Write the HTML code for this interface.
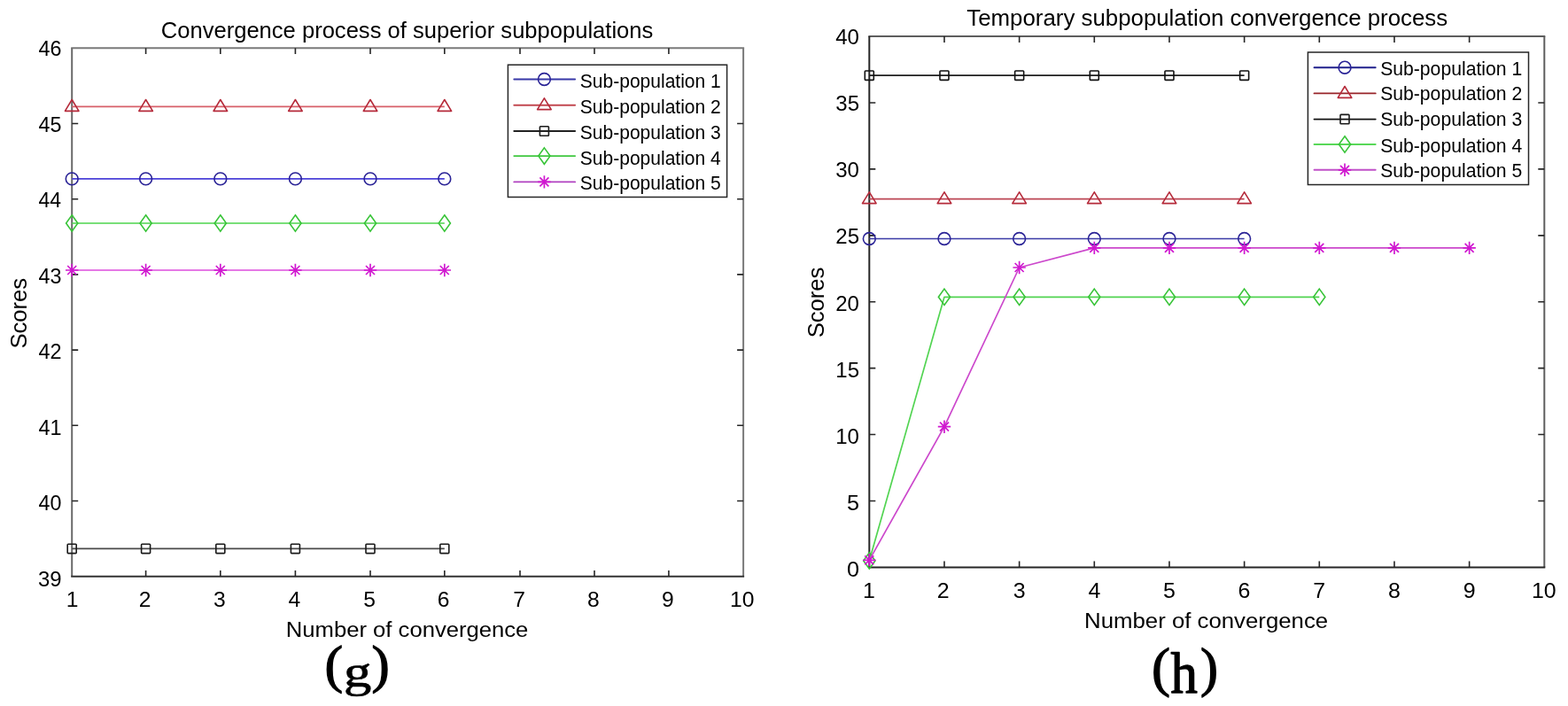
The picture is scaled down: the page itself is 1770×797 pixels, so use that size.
<!DOCTYPE html>
<html><head><meta charset="utf-8"><title>Convergence plots</title>
<style>html,body{margin:0;padding:0;background:#fff;}body{width:1770px;height:797px;overflow:hidden;}svg{display:block;}</style>
</head><body><svg width="1770" height="797" viewBox="0 0 1770 797"><rect width="1770" height="797" fill="#fff"/><path d="M80.20,54.30H840.10" stroke="#7a7a7a" stroke-width="2.0"/><path d="M839.10,54.30V650.70" stroke="#7a7a7a" stroke-width="2.0"/><path d="M81.20,54.30V650.70" stroke="#6a6a6a" stroke-width="2.0"/><path d="M80.20,650.70H840.10" stroke="#333" stroke-width="2.0"/><path d="M164.60,650.70V643.90M164.60,54.30V61.10M248.80,650.70V643.90M248.80,54.30V61.10M333.40,650.70V643.90M333.40,54.30V61.10M418.00,650.70V643.90M418.00,54.30V61.10M501.80,650.70V643.90M501.80,54.30V61.10M587.00,650.70V643.90M587.00,54.30V61.10M671.00,650.70V643.90M671.00,54.30V61.10M754.90,650.70V643.90M754.90,54.30V61.10M81.20,565.50H88.20M839.10,565.50H832.10M81.20,480.30H88.20M839.10,480.30H832.10M81.20,395.10H88.20M839.10,395.10H832.10M81.20,309.90H88.20M839.10,309.90H832.10M81.20,224.70H88.20M839.10,224.70H832.10M81.20,139.50H88.20M839.10,139.50H832.10" stroke="#262626" stroke-width="1.6" fill="none"/><path d="M980.30,41.10H1744.30" stroke="#5e5e5e" stroke-width="2.0"/><path d="M1743.30,41.10V640.40" stroke="#5e5e5e" stroke-width="2.0"/><path d="M981.30,41.10V640.40" stroke="#262626" stroke-width="2.0"/><path d="M980.30,640.40H1744.30" stroke="#262626" stroke-width="2.0"/><path d="M1065.97,640.40V633.60M1065.97,41.10V47.90M1150.63,640.40V633.60M1150.63,41.10V47.90M1235.30,640.40V633.60M1235.30,41.10V47.90M1319.97,640.40V633.60M1319.97,41.10V47.90M1404.63,640.40V633.60M1404.63,41.10V47.90M1489.30,640.40V633.60M1489.30,41.10V47.90M1573.97,640.40V633.60M1573.97,41.10V47.90M1658.63,640.40V633.60M1658.63,41.10V47.90M981.30,565.49H988.30M1743.30,565.49H1736.30M981.30,490.57H988.30M1743.30,490.57H1736.30M981.30,415.66H988.30M1743.30,415.66H1736.30M981.30,340.75H988.30M1743.30,340.75H1736.30M981.30,265.84H988.30M1743.30,265.84H1736.30M981.30,190.92H988.30M1743.30,190.92H1736.30M981.30,116.01H988.30M1743.30,116.01H1736.30" stroke="#262626" stroke-width="1.6" fill="none"/><polyline points="81.20,619.40 164.60,619.40 248.80,619.40 333.40,619.40 418.00,619.40 501.80,619.40" fill="none" stroke="#4a4a4a" stroke-width="1.7" stroke-linejoin="round"/><rect x="76.20" y="614.20" width="10.0" height="10.4" rx="0.8" fill="none" stroke="#1a1a1a" stroke-width="1.6"/><rect x="159.60" y="614.20" width="10.0" height="10.4" rx="0.8" fill="none" stroke="#1a1a1a" stroke-width="1.6"/><rect x="243.80" y="614.20" width="10.0" height="10.4" rx="0.8" fill="none" stroke="#1a1a1a" stroke-width="1.6"/><rect x="328.40" y="614.20" width="10.0" height="10.4" rx="0.8" fill="none" stroke="#1a1a1a" stroke-width="1.6"/><rect x="413.00" y="614.20" width="10.0" height="10.4" rx="0.8" fill="none" stroke="#1a1a1a" stroke-width="1.6"/><rect x="496.80" y="614.20" width="10.0" height="10.4" rx="0.8" fill="none" stroke="#1a1a1a" stroke-width="1.6"/><polyline points="81.20,252.00 164.60,252.00 248.80,252.00 333.40,252.00 418.00,252.00 501.80,252.00" fill="none" stroke="#4cd44c" stroke-width="1.7" stroke-linejoin="round"/><path d="M81.20,242.80 L87.80,252.00 L81.20,261.20 L74.60,252.00 Z" fill="none" stroke="#38c438" stroke-width="1.6"/><path d="M164.60,242.80 L171.20,252.00 L164.60,261.20 L158.00,252.00 Z" fill="none" stroke="#38c438" stroke-width="1.6"/><path d="M248.80,242.80 L255.40,252.00 L248.80,261.20 L242.20,252.00 Z" fill="none" stroke="#38c438" stroke-width="1.6"/><path d="M333.40,242.80 L340.00,252.00 L333.40,261.20 L326.80,252.00 Z" fill="none" stroke="#38c438" stroke-width="1.6"/><path d="M418.00,242.80 L424.60,252.00 L418.00,261.20 L411.40,252.00 Z" fill="none" stroke="#38c438" stroke-width="1.6"/><path d="M501.80,242.80 L508.40,252.00 L501.80,261.20 L495.20,252.00 Z" fill="none" stroke="#38c438" stroke-width="1.6"/><polyline points="81.20,305.00 164.60,305.00 248.80,305.00 333.40,305.00 418.00,305.00 501.80,305.00" fill="none" stroke="#dc4cdc" stroke-width="1.7" stroke-linejoin="round"/><path d="M74.00,305.00H88.40M81.20,297.80V312.20M76.20,300.00L86.20,310.00M76.20,310.00L86.20,300.00" stroke="#d018d0" stroke-width="1.7" fill="none"/><path d="M157.40,305.00H171.80M164.60,297.80V312.20M159.60,300.00L169.60,310.00M159.60,310.00L169.60,300.00" stroke="#d018d0" stroke-width="1.7" fill="none"/><path d="M241.60,305.00H256.00M248.80,297.80V312.20M243.80,300.00L253.80,310.00M243.80,310.00L253.80,300.00" stroke="#d018d0" stroke-width="1.7" fill="none"/><path d="M326.20,305.00H340.60M333.40,297.80V312.20M328.40,300.00L338.40,310.00M328.40,310.00L338.40,300.00" stroke="#d018d0" stroke-width="1.7" fill="none"/><path d="M410.80,305.00H425.20M418.00,297.80V312.20M413.00,300.00L423.00,310.00M413.00,310.00L423.00,300.00" stroke="#d018d0" stroke-width="1.7" fill="none"/><path d="M494.60,305.00H509.00M501.80,297.80V312.20M496.80,300.00L506.80,310.00M496.80,310.00L506.80,300.00" stroke="#d018d0" stroke-width="1.7" fill="none"/><polyline points="81.20,201.90 164.60,201.90 248.80,201.90 333.40,201.90 418.00,201.90 501.80,201.90" fill="none" stroke="#4a40d8" stroke-width="1.7" stroke-linejoin="round"/><circle cx="81.20" cy="201.90" r="6.9" fill="none" stroke="#2a2396" stroke-width="1.6"/><circle cx="164.60" cy="201.90" r="6.9" fill="none" stroke="#2a2396" stroke-width="1.6"/><circle cx="248.80" cy="201.90" r="6.9" fill="none" stroke="#2a2396" stroke-width="1.6"/><circle cx="333.40" cy="201.90" r="6.9" fill="none" stroke="#2a2396" stroke-width="1.6"/><circle cx="418.00" cy="201.90" r="6.9" fill="none" stroke="#2a2396" stroke-width="1.6"/><circle cx="501.80" cy="201.90" r="6.9" fill="none" stroke="#2a2396" stroke-width="1.6"/><polyline points="81.20,120.40 164.60,120.40 248.80,120.40 333.40,120.40 418.00,120.40 501.80,120.40" fill="none" stroke="#d8606a" stroke-width="1.7" stroke-linejoin="round"/><path d="M81.20,112.50 L89.00,125.35 L73.40,125.35 Z" fill="none" stroke="#b52a3a" stroke-width="1.6" stroke-linejoin="round"/><path d="M164.60,112.50 L172.40,125.35 L156.80,125.35 Z" fill="none" stroke="#b52a3a" stroke-width="1.6" stroke-linejoin="round"/><path d="M248.80,112.50 L256.60,125.35 L241.00,125.35 Z" fill="none" stroke="#b52a3a" stroke-width="1.6" stroke-linejoin="round"/><path d="M333.40,112.50 L341.20,125.35 L325.60,125.35 Z" fill="none" stroke="#b52a3a" stroke-width="1.6" stroke-linejoin="round"/><path d="M418.00,112.50 L425.80,125.35 L410.20,125.35 Z" fill="none" stroke="#b52a3a" stroke-width="1.6" stroke-linejoin="round"/><path d="M501.80,112.50 L509.60,125.35 L494.00,125.35 Z" fill="none" stroke="#b52a3a" stroke-width="1.6" stroke-linejoin="round"/><polyline points="981.30,85.20 1065.97,85.20 1150.63,85.20 1235.30,85.20 1319.97,85.20 1404.63,85.20" fill="none" stroke="#1e1e1e" stroke-width="1.7" stroke-linejoin="round"/><rect x="976.30" y="80.00" width="10.0" height="10.4" rx="0.8" fill="none" stroke="#111111" stroke-width="1.6"/><rect x="1060.97" y="80.00" width="10.0" height="10.4" rx="0.8" fill="none" stroke="#111111" stroke-width="1.6"/><rect x="1145.63" y="80.00" width="10.0" height="10.4" rx="0.8" fill="none" stroke="#111111" stroke-width="1.6"/><rect x="1230.30" y="80.00" width="10.0" height="10.4" rx="0.8" fill="none" stroke="#111111" stroke-width="1.6"/><rect x="1314.97" y="80.00" width="10.0" height="10.4" rx="0.8" fill="none" stroke="#111111" stroke-width="1.6"/><rect x="1399.63" y="80.00" width="10.0" height="10.4" rx="0.8" fill="none" stroke="#111111" stroke-width="1.6"/><polyline points="981.30,224.70 1065.97,224.70 1150.63,224.70 1235.30,224.70 1319.97,224.70 1404.63,224.70" fill="none" stroke="#bc4654" stroke-width="1.7" stroke-linejoin="round"/><path d="M981.30,216.80 L989.10,229.65 L973.50,229.65 Z" fill="none" stroke="#b52a3a" stroke-width="1.6" stroke-linejoin="round"/><path d="M1065.97,216.80 L1073.77,229.65 L1058.17,229.65 Z" fill="none" stroke="#b52a3a" stroke-width="1.6" stroke-linejoin="round"/><path d="M1150.63,216.80 L1158.43,229.65 L1142.83,229.65 Z" fill="none" stroke="#b52a3a" stroke-width="1.6" stroke-linejoin="round"/><path d="M1235.30,216.80 L1243.10,229.65 L1227.50,229.65 Z" fill="none" stroke="#b52a3a" stroke-width="1.6" stroke-linejoin="round"/><path d="M1319.97,216.80 L1327.77,229.65 L1312.17,229.65 Z" fill="none" stroke="#b52a3a" stroke-width="1.6" stroke-linejoin="round"/><path d="M1404.63,216.80 L1412.43,229.65 L1396.83,229.65 Z" fill="none" stroke="#b52a3a" stroke-width="1.6" stroke-linejoin="round"/><polyline points="981.30,269.50 1065.97,269.50 1150.63,269.50 1235.30,269.50 1319.97,269.50 1404.63,269.50" fill="none" stroke="#3a3aa6" stroke-width="1.7" stroke-linejoin="round"/><circle cx="981.30" cy="269.50" r="6.9" fill="none" stroke="#2a2396" stroke-width="1.6"/><circle cx="1065.97" cy="269.50" r="6.9" fill="none" stroke="#2a2396" stroke-width="1.6"/><circle cx="1150.63" cy="269.50" r="6.9" fill="none" stroke="#2a2396" stroke-width="1.6"/><circle cx="1235.30" cy="269.50" r="6.9" fill="none" stroke="#2a2396" stroke-width="1.6"/><circle cx="1319.97" cy="269.50" r="6.9" fill="none" stroke="#2a2396" stroke-width="1.6"/><circle cx="1404.63" cy="269.50" r="6.9" fill="none" stroke="#2a2396" stroke-width="1.6"/><polyline points="981.30,633.00 1065.97,335.30 1150.63,335.30 1235.30,335.30 1319.97,335.30 1404.63,335.30 1489.30,335.30" fill="none" stroke="#52d452" stroke-width="1.7" stroke-linejoin="round"/><path d="M981.30,623.80 L987.90,633.00 L981.30,642.20 L974.70,633.00 Z" fill="none" stroke="#38c438" stroke-width="1.6"/><path d="M1065.97,326.10 L1072.57,335.30 L1065.97,344.50 L1059.37,335.30 Z" fill="none" stroke="#38c438" stroke-width="1.6"/><path d="M1150.63,326.10 L1157.23,335.30 L1150.63,344.50 L1144.03,335.30 Z" fill="none" stroke="#38c438" stroke-width="1.6"/><path d="M1235.30,326.10 L1241.90,335.30 L1235.30,344.50 L1228.70,335.30 Z" fill="none" stroke="#38c438" stroke-width="1.6"/><path d="M1319.97,326.10 L1326.57,335.30 L1319.97,344.50 L1313.37,335.30 Z" fill="none" stroke="#38c438" stroke-width="1.6"/><path d="M1404.63,326.10 L1411.23,335.30 L1404.63,344.50 L1398.03,335.30 Z" fill="none" stroke="#38c438" stroke-width="1.6"/><path d="M1489.30,326.10 L1495.90,335.30 L1489.30,344.50 L1482.70,335.30 Z" fill="none" stroke="#38c438" stroke-width="1.6"/><polyline points="981.30,632.30 1065.97,481.70 1150.63,302.00 1235.30,279.90 1319.97,279.90 1404.63,279.90 1489.30,279.90 1573.97,279.90 1658.63,279.90" fill="none" stroke="#cc48cc" stroke-width="1.7" stroke-linejoin="round"/><path d="M974.10,632.30H988.50M981.30,625.10V639.50M976.30,627.30L986.30,637.30M976.30,637.30L986.30,627.30" stroke="#d018d0" stroke-width="1.7" fill="none"/><path d="M1058.77,481.70H1073.17M1065.97,474.50V488.90M1060.97,476.70L1070.97,486.70M1060.97,486.70L1070.97,476.70" stroke="#d018d0" stroke-width="1.7" fill="none"/><path d="M1143.43,302.00H1157.83M1150.63,294.80V309.20M1145.63,297.00L1155.63,307.00M1145.63,307.00L1155.63,297.00" stroke="#d018d0" stroke-width="1.7" fill="none"/><path d="M1228.10,279.90H1242.50M1235.30,272.70V287.10M1230.30,274.90L1240.30,284.90M1230.30,284.90L1240.30,274.90" stroke="#d018d0" stroke-width="1.7" fill="none"/><path d="M1312.77,279.90H1327.17M1319.97,272.70V287.10M1314.97,274.90L1324.97,284.90M1314.97,284.90L1324.97,274.90" stroke="#d018d0" stroke-width="1.7" fill="none"/><path d="M1397.43,279.90H1411.83M1404.63,272.70V287.10M1399.63,274.90L1409.63,284.90M1399.63,284.90L1409.63,274.90" stroke="#d018d0" stroke-width="1.7" fill="none"/><path d="M1482.10,279.90H1496.50M1489.30,272.70V287.10M1484.30,274.90L1494.30,284.90M1484.30,284.90L1494.30,274.90" stroke="#d018d0" stroke-width="1.7" fill="none"/><path d="M1566.77,279.90H1581.17M1573.97,272.70V287.10M1568.97,274.90L1578.97,284.90M1568.97,284.90L1578.97,274.90" stroke="#d018d0" stroke-width="1.7" fill="none"/><path d="M1651.43,279.90H1665.83M1658.63,272.70V287.10M1653.63,274.90L1663.63,284.90M1653.63,284.90L1663.63,274.90" stroke="#d018d0" stroke-width="1.7" fill="none"/><rect x="573.40" y="73.20" width="247.20" height="149.30" fill="#fff" stroke="#262626" stroke-width="1.5"/><line x1="580.30" y1="89.50" x2="649.10" y2="89.50" stroke="#3838a8" stroke-width="1.9" stroke-linecap="round"/><circle cx="614.40" cy="89.50" r="6.9" fill="none" stroke="#2a2396" stroke-width="1.6"/><text x="654.85" y="98.50" font-family="Liberation Sans" font-size="22" textLength="158.93" lengthAdjust="spacingAndGlyphs">Sub-population 1</text><line x1="580.30" y1="118.70" x2="649.10" y2="118.70" stroke="#c24850" stroke-width="1.9" stroke-linecap="round"/><path d="M614.40,110.80 L622.20,123.65 L606.60,123.65 Z" fill="none" stroke="#b52a3a" stroke-width="1.6" stroke-linejoin="round"/><text x="654.85" y="127.70" font-family="Liberation Sans" font-size="22" textLength="158.93" lengthAdjust="spacingAndGlyphs">Sub-population 2</text><line x1="580.30" y1="148.00" x2="649.10" y2="148.00" stroke="#222222" stroke-width="1.9" stroke-linecap="round"/><rect x="609.40" y="142.80" width="10.0" height="10.4" rx="0.8" fill="none" stroke="#1a1a1a" stroke-width="1.6"/><text x="654.85" y="156.80" font-family="Liberation Sans" font-size="22" textLength="158.93" lengthAdjust="spacingAndGlyphs">Sub-population 3</text><line x1="580.30" y1="176.10" x2="649.10" y2="176.10" stroke="#40c840" stroke-width="1.9" stroke-linecap="round"/><path d="M614.40,166.90 L621.00,176.10 L614.40,185.30 L607.80,176.10 Z" fill="none" stroke="#38c438" stroke-width="1.6"/><text x="654.85" y="185.80" font-family="Liberation Sans" font-size="22" textLength="158.93" lengthAdjust="spacingAndGlyphs">Sub-population 4</text><line x1="580.30" y1="205.40" x2="649.10" y2="205.40" stroke="#b040c0" stroke-width="1.9" stroke-linecap="round"/><path d="M607.20,205.40H621.60M614.40,198.20V212.60M609.40,200.40L619.40,210.40M609.40,210.40L619.40,200.40" stroke="#d018d0" stroke-width="1.7" fill="none"/><text x="654.85" y="213.60" font-family="Liberation Sans" font-size="22" textLength="158.93" lengthAdjust="spacingAndGlyphs">Sub-population 5</text><rect x="1476.40" y="59.00" width="249.10" height="149.50" fill="#fff" stroke="#262626" stroke-width="1.5"/><line x1="1483.50" y1="76.20" x2="1552.70" y2="76.20" stroke="#20208c" stroke-width="1.9" stroke-linecap="round"/><circle cx="1518.00" cy="76.20" r="6.9" fill="none" stroke="#2a2396" stroke-width="1.6"/><text x="1558.15" y="85.00" font-family="Liberation Sans" font-size="22" textLength="160.04" lengthAdjust="spacingAndGlyphs">Sub-population 1</text><line x1="1483.50" y1="105.40" x2="1552.70" y2="105.40" stroke="#98242a" stroke-width="1.9" stroke-linecap="round"/><path d="M1518.00,97.50 L1525.80,110.35 L1510.20,110.35 Z" fill="none" stroke="#b52a3a" stroke-width="1.6" stroke-linejoin="round"/><text x="1558.15" y="113.30" font-family="Liberation Sans" font-size="22" textLength="160.04" lengthAdjust="spacingAndGlyphs">Sub-population 2</text><line x1="1483.50" y1="134.60" x2="1552.70" y2="134.60" stroke="#111111" stroke-width="1.9" stroke-linecap="round"/><rect x="1513.00" y="129.40" width="10.0" height="10.4" rx="0.8" fill="none" stroke="#1a1a1a" stroke-width="1.6"/><text x="1558.15" y="142.00" font-family="Liberation Sans" font-size="22" textLength="160.04" lengthAdjust="spacingAndGlyphs">Sub-population 3</text><line x1="1483.50" y1="163.00" x2="1552.70" y2="163.00" stroke="#58d858" stroke-width="1.9" stroke-linecap="round"/><path d="M1518.00,153.80 L1524.60,163.00 L1518.00,172.20 L1511.40,163.00 Z" fill="none" stroke="#38c438" stroke-width="1.6"/><text x="1558.15" y="172.00" font-family="Liberation Sans" font-size="22" textLength="160.04" lengthAdjust="spacingAndGlyphs">Sub-population 4</text><line x1="1483.50" y1="191.80" x2="1552.70" y2="191.80" stroke="#c050c8" stroke-width="1.9" stroke-linecap="round"/><path d="M1510.80,191.80H1525.20M1518.00,184.60V199.00M1513.00,186.80L1523.00,196.80M1513.00,196.80L1523.00,186.80" stroke="#d018d0" stroke-width="1.7" fill="none"/><text x="1558.15" y="199.60" font-family="Liberation Sans" font-size="22" textLength="160.04" lengthAdjust="spacingAndGlyphs">Sub-population 5</text><text x="43.04" y="661.90" font-family='"Liberation Sans"' font-size="23.5" font-weight="normal" textLength="26.59" lengthAdjust="spacingAndGlyphs" fill="#000" >39</text><text x="43.54" y="576.40" font-family='"Liberation Sans"' font-size="23.5" font-weight="normal" textLength="25.83" lengthAdjust="spacingAndGlyphs" fill="#000" >40</text><text x="43.53" y="490.90" font-family='"Liberation Sans"' font-size="23.5" font-weight="normal" textLength="26.08" lengthAdjust="spacingAndGlyphs" fill="#000" >41</text><text x="43.53" y="405.40" font-family='"Liberation Sans"' font-size="23.5" font-weight="normal" textLength="26.08" lengthAdjust="spacingAndGlyphs" fill="#000" >42</text><text x="43.53" y="319.90" font-family='"Liberation Sans"' font-size="23.5" font-weight="normal" textLength="25.95" lengthAdjust="spacingAndGlyphs" fill="#000" >43</text><text x="43.54" y="234.40" font-family='"Liberation Sans"' font-size="23.5" font-weight="normal" textLength="25.59" lengthAdjust="spacingAndGlyphs" fill="#000" >44</text><text x="43.53" y="148.90" font-family='"Liberation Sans"' font-size="23.5" font-weight="normal" textLength="25.95" lengthAdjust="spacingAndGlyphs" fill="#000" >45</text><text x="43.53" y="63.40" font-family='"Liberation Sans"' font-size="23.5" font-weight="normal" textLength="25.95" lengthAdjust="spacingAndGlyphs" fill="#000" >46</text><text x="74.78" y="685.30" font-family="Liberation Sans" font-size="23.5" textLength="13.72" lengthAdjust="spacingAndGlyphs">1</text><text x="156.75" y="685.30" font-family="Liberation Sans" font-size="23.5" textLength="13.72" lengthAdjust="spacingAndGlyphs">2</text><text x="240.95" y="685.30" font-family="Liberation Sans" font-size="23.5" textLength="13.72" lengthAdjust="spacingAndGlyphs">3</text><text x="325.61" y="685.30" font-family="Liberation Sans" font-size="23.5" textLength="13.72" lengthAdjust="spacingAndGlyphs">4</text><text x="410.15" y="685.30" font-family="Liberation Sans" font-size="23.5" textLength="13.72" lengthAdjust="spacingAndGlyphs">5</text><text x="493.83" y="685.30" font-family="Liberation Sans" font-size="23.5" textLength="13.72" lengthAdjust="spacingAndGlyphs">6</text><text x="579.15" y="685.30" font-family="Liberation Sans" font-size="23.5" textLength="13.72" lengthAdjust="spacingAndGlyphs">7</text><text x="663.09" y="685.30" font-family="Liberation Sans" font-size="23.5" textLength="13.72" lengthAdjust="spacingAndGlyphs">8</text><text x="747.05" y="685.30" font-family="Liberation Sans" font-size="23.5" textLength="13.72" lengthAdjust="spacingAndGlyphs">9</text><text x="823.91" y="685.30" font-family="Liberation Sans" font-size="23.5" textLength="27.45" lengthAdjust="spacingAndGlyphs">10</text><text x="955.90" y="651.06" font-family="Liberation Sans" font-size="24" textLength="14.02" lengthAdjust="spacingAndGlyphs">0</text><text x="956.02" y="575.93" font-family="Liberation Sans" font-size="24" textLength="14.02" lengthAdjust="spacingAndGlyphs">5</text><text x="943.20" y="500.80" font-family="Liberation Sans" font-size="24" textLength="26.70" lengthAdjust="spacingAndGlyphs">10</text><text x="943.32" y="425.66" font-family="Liberation Sans" font-size="24" textLength="26.70" lengthAdjust="spacingAndGlyphs">15</text><text x="943.20" y="350.53" font-family="Liberation Sans" font-size="24" textLength="26.70" lengthAdjust="spacingAndGlyphs">20</text><text x="943.32" y="275.40" font-family="Liberation Sans" font-size="24" textLength="26.70" lengthAdjust="spacingAndGlyphs">25</text><text x="943.20" y="200.26" font-family="Liberation Sans" font-size="24" textLength="26.70" lengthAdjust="spacingAndGlyphs">30</text><text x="943.32" y="125.13" font-family="Liberation Sans" font-size="24" textLength="26.70" lengthAdjust="spacingAndGlyphs">35</text><text x="943.20" y="50.00" font-family="Liberation Sans" font-size="24" textLength="26.70" lengthAdjust="spacingAndGlyphs">40</text><text x="974.00" y="675.20" font-family="Liberation Sans" font-size="24" textLength="13.88" lengthAdjust="spacingAndGlyphs">1</text><text x="1057.84" y="675.20" font-family="Liberation Sans" font-size="24" textLength="13.88" lengthAdjust="spacingAndGlyphs">2</text><text x="1143.71" y="675.20" font-family="Liberation Sans" font-size="24" textLength="13.88" lengthAdjust="spacingAndGlyphs">3</text><text x="1228.44" y="675.20" font-family="Liberation Sans" font-size="24" textLength="13.88" lengthAdjust="spacingAndGlyphs">4</text><text x="1313.04" y="675.20" font-family="Liberation Sans" font-size="24" textLength="13.88" lengthAdjust="spacingAndGlyphs">5</text><text x="1397.58" y="675.20" font-family="Liberation Sans" font-size="24" textLength="13.88" lengthAdjust="spacingAndGlyphs">6</text><text x="1482.37" y="675.20" font-family="Liberation Sans" font-size="24" textLength="13.88" lengthAdjust="spacingAndGlyphs">7</text><text x="1566.98" y="675.20" font-family="Liberation Sans" font-size="24" textLength="13.88" lengthAdjust="spacingAndGlyphs">8</text><text x="1651.71" y="675.20" font-family="Liberation Sans" font-size="24" textLength="13.88" lengthAdjust="spacingAndGlyphs">9</text><text x="1728.95" y="675.20" font-family="Liberation Sans" font-size="24" textLength="27.76" lengthAdjust="spacingAndGlyphs">10</text><text x="181.82" y="42.60" font-family='"Liberation Sans"' font-size="25.5" font-weight="normal" textLength="555.48" lengthAdjust="spacingAndGlyphs" fill="#000" >Convergence process of superior subpopulations</text><text x="1091.28" y="28.60" font-family='"Liberation Sans"' font-size="25.5" font-weight="normal" textLength="542.88" lengthAdjust="spacingAndGlyphs" fill="#000" >Temporary subpopulation convergence process</text><text x="322.85" y="718.80" font-family='"Liberation Sans"' font-size="23.5" font-weight="normal" textLength="273.54" lengthAdjust="spacingAndGlyphs" fill="#000" >Number of convergence</text><text x="1224.04" y="708.60" font-family='"Liberation Sans"' font-size="23.5" font-weight="normal" textLength="275.16" lengthAdjust="spacingAndGlyphs" fill="#000" >Number of convergence</text><text transform="translate(29.80,393.55) rotate(-90)" x="0" y="0" font-family="Liberation Sans" font-size="25" textLength="79.71" lengthAdjust="spacingAndGlyphs">Scores</text><text transform="translate(929.80,381.35) rotate(-90)" x="0" y="0" font-family="Liberation Sans" font-size="25" textLength="79.71" lengthAdjust="spacingAndGlyphs">Scores</text><text transform="matrix(0.61961,0,0,0.59667,366.46,769.52)" x="0" y="0" font-family='"Liberation Serif"' font-weight="normal" font-size="100" fill="#000" stroke="#000" stroke-width="2.138" stroke-linejoin="round">(</text><text transform="matrix(0.60769,0,0,0.59667,419.43,769.52)" x="0" y="0" font-family='"Liberation Serif"' font-weight="normal" font-size="100" fill="#000" stroke="#000" stroke-width="2.159" stroke-linejoin="round">)</text><text transform="matrix(0.62727,0,0,0.51507,388.09,775.13)" x="0" y="0" font-family='"Liberation Serif"' font-weight="normal" font-size="100" fill="#000" stroke="#000" stroke-width="1.401" stroke-linejoin="round">g</text><text transform="matrix(0.63137,0,0,0.61333,1299.91,774.07)" x="0" y="0" font-family='"Liberation Serif"' font-weight="normal" font-size="100" fill="#000" stroke="#000" stroke-width="2.089" stroke-linejoin="round">(</text><text transform="matrix(0.60000,0,0,0.61333,1355.05,774.07)" x="0" y="0" font-family='"Liberation Serif"' font-weight="normal" font-size="100" fill="#000" stroke="#000" stroke-width="2.143" stroke-linejoin="round">)</text><text transform="matrix(0.60625,0,0,0.64892,1321.44,782.15)" x="0" y="0" font-family='"Liberation Serif"' font-weight="normal" font-size="100" fill="#000" stroke="#000" stroke-width="2.071" stroke-linejoin="round">h</text></svg></body></html>
